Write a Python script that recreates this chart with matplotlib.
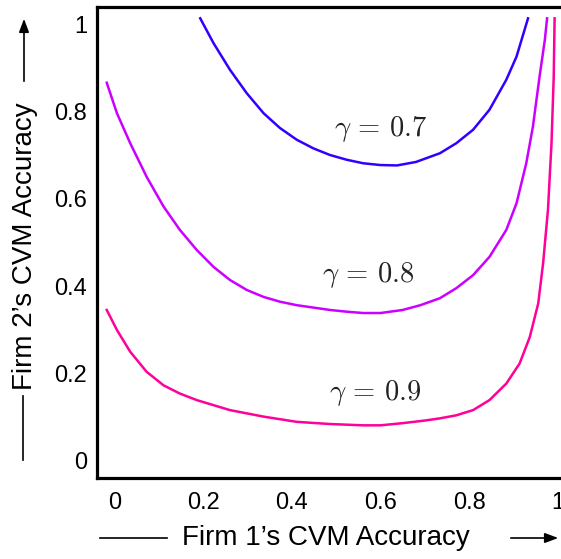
import matplotlib
matplotlib.use("Agg")
import matplotlib.pyplot as plt
from matplotlib.lines import Line2D
from matplotlib.patches import FancyArrowPatch

plt.rcParams["font.family"] = ["Liberation Sans", "DejaVu Sans"]
plt.rcParams["mathtext.fontset"] = "cm"

# Equilibrium boundary curves for three values of gamma
x_g07 = [0.193, 0.223, 0.26, 0.298, 0.336, 0.373, 0.411, 0.449, 0.486, 0.524, 0.561,
         0.599, 0.637, 0.68, 0.734, 0.771, 0.809, 0.846, 0.884, 0.907, 0.933]
y_g07 = [1.015, 0.958, 0.897, 0.843, 0.797, 0.763, 0.736, 0.716, 0.701, 0.690, 0.682,
         0.678, 0.677, 0.685, 0.705, 0.728, 0.759, 0.805, 0.874, 0.927, 1.015]

x_g08 = [-0.018, 0.005, 0.035, 0.072, 0.11, 0.147, 0.185, 0.223, 0.26, 0.298, 0.336,
         0.373, 0.411, 0.486, 0.524, 0.561, 0.60, 0.65, 0.69, 0.734, 0.771, 0.809,
         0.846, 0.884, 0.907, 0.929, 0.944, 0.959, 0.971, 0.976]
y_g08 = [0.867, 0.797, 0.728, 0.651, 0.583, 0.529, 0.483, 0.444, 0.414, 0.391, 0.375,
         0.364, 0.356, 0.345, 0.341, 0.338, 0.338, 0.345, 0.356, 0.372, 0.395, 0.425,
         0.467, 0.529, 0.590, 0.682, 0.766, 0.881, 0.966, 1.015]

x_g09 = [-0.018, 0.005, 0.035, 0.072, 0.11, 0.147, 0.185, 0.26, 0.336, 0.411, 0.486,
         0.561, 0.60, 0.65, 0.70, 0.734, 0.771, 0.809, 0.846, 0.884, 0.914, 0.937,
         0.956, 0.967, 0.978, 0.986, 0.991, 0.993]
y_g09 = [0.345, 0.299, 0.249, 0.203, 0.172, 0.153, 0.138, 0.115, 0.100, 0.088, 0.083,
         0.080, 0.080, 0.085, 0.091, 0.096, 0.103, 0.115, 0.138, 0.176, 0.222, 0.283,
         0.360, 0.452, 0.575, 0.728, 0.881, 1.015]

curve_labels = [r"$\gamma\,=\,0.7$", r"$\gamma\,=\,0.8$", r"$\gamma\,=\,0.9$"]
label_x = [0.60, 0.571, 0.587]
label_y = [0.76, 0.425, 0.154]

x_ticks = [0, 0.2, 0.4, 0.6, 0.8, 1]
x_ticklabels = ["0", "0.2", "0.4", "0.6", "0.8", "1"]
y_ticks = [0, 0.2, 0.4, 0.6, 0.8, 1]
y_ticklabels = ["0", "0.2", "0.4", "0.6", "0.8", "1"]

colors = ["#3300ff", "#cc00ff", "#ff0099"]

W, H = 561, 559
fig = plt.figure(figsize=(W / 100, H / 100), dpi=100)
ax = fig.add_axes([97 / W, 1 - 478 / H, (571 - 97) / W, (478 - 7) / H])

for xs, ys, c in zip([x_g07, x_g08, x_g09], [y_g07, y_g08, y_g09], colors):
    ax.plot(xs, ys, color=c, lw=1.8, solid_joinstyle="round")

for t, lx, ly in zip(curve_labels, label_x, label_y):
    ax.text(lx, ly, t, fontsize=20.5, ha="center", va="center", color="#222222")

ax.set_xlim(-0.04, 1.03)
ax.set_ylim(-0.041, 1.041)
ax.set_xticks(x_ticks)
ax.set_xticklabels(x_ticklabels)
ax.set_yticks(y_ticks)
ax.set_yticklabels(y_ticklabels)
ax.tick_params(length=0, labelsize=17)
ax.tick_params(axis="x", pad=10)
ax.tick_params(axis="y", pad=7)
for s in ["left", "bottom", "top", "right"]:
    ax.spines[s].set_linewidth(2.3)

# Axis titles with leading lines and arrows
fig.text(326 / W, 1 - 538 / H, "Firm 1\u2019s CVM Accuracy", fontsize=20,
         ha="center", va="center")
fig.add_artist(Line2D([100 / W, 167 / W], [1 - 538 / H, 1 - 538 / H],
                      color="black", lw=1.2, transform=fig.transFigure))
fig.add_artist(FancyArrowPatch(
    (508 / W, 1 - 538 / H), (561 / W, 1 - 538 / H), transform=fig.transFigure,
    arrowstyle="-|>,head_length=8,head_width=3", color="black", lw=1.2))

fig.text(25 / W, 1 - 246 / H, "Firm 2\u2019s CVM Accuracy", fontsize=20,
         ha="center", va="center", rotation=90)
fig.add_artist(Line2D([23 / W, 23 / W], [1 - 460 / H, 1 - 396 / H],
                      color="black", lw=1.2, transform=fig.transFigure))
fig.add_artist(FancyArrowPatch(
    (24 / W, 1 - 84 / H), (24 / W, 1 - 16 / H), transform=fig.transFigure,
    arrowstyle="-|>,head_length=8,head_width=3", color="black", lw=1.2))

fig.savefig("out.png", dpi=100)
